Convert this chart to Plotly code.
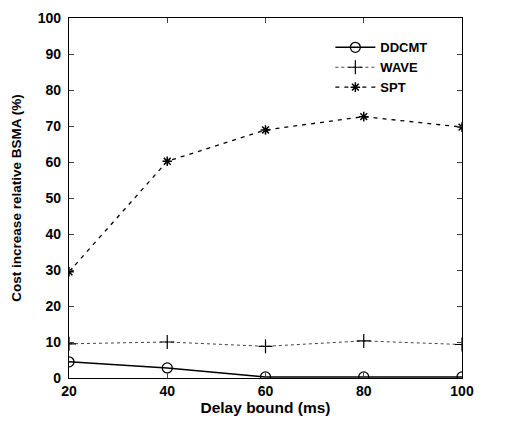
import plotly.graph_objects as go

delay = [20, 40, 60, 80, 100]
ddcmt = [4.5, 2.8, 0.3, 0.3, 0.3]
wave = [9.5, 10.0, 8.8, 10.3, 9.3]
spt = [29.5, 60.2, 68.9, 72.6, 69.7]

font = dict(family="Liberation Sans, Arial", size=13, color="black")

fig = go.Figure()
fig.add_trace(go.Scatter(x=delay, y=ddcmt, name="<b>DDCMT</b>", mode="lines+markers",
                         line=dict(color="black", width=1.5, dash="solid"),
                         marker=dict(symbol="circle-open", size=10, color="black", line=dict(width=1.3))))
fig.add_trace(go.Scatter(x=delay, y=wave, name="<b>WAVE</b>", mode="lines+markers",
                         line=dict(color="#444", width=1, dash="dot"),
                         marker=dict(symbol="cross-thin-open", size=10, color="black", line=dict(width=1.2))))
fig.add_trace(go.Scatter(x=delay, y=spt, name="<b>SPT</b>", mode="lines+markers",
                         line=dict(color="black", width=1.3, dash="4px,5px"),
                         marker=dict(symbol="asterisk-open", size=8, color="black", line=dict(width=1.5))))

fig.update_layout(
    width=497, height=421,
    margin=dict(l=61, r=43, t=10, b=51),
    paper_bgcolor="white", plot_bgcolor="white",
    font=font,
    showlegend=True,
    legend=dict(x=0.665, y=0.96, xanchor="left", yanchor="top",
                bgcolor="rgba(0,0,0,0)", font=dict(size=13), tracegroupgap=0,
                itemwidth=40),
)
fig.update_xaxes(range=[20, 100], tickvals=[20, 40, 60, 80, 100],
                 ticktext=["<b>20</b>", "<b>40</b>", "<b>60</b>", "<b>80</b>", "<b>100</b>"],
                 tickfont=dict(size=14), ticklabelstandoff=0, automargin=False,
                 ticks="inside", ticklen=5, mirror="ticks", showline=True, linecolor="black",
                 linewidth=1.3, showgrid=False, zeroline=False,
                 title=dict(text="<b>Delay bound (ms)</b>", standoff=2, font=dict(size=15.5)))
fig.update_yaxes(range=[0, 100], tickvals=list(range(0, 101, 10)),
                 ticktext=["<b>%d</b>" % v for v in range(0, 101, 10)],
                 tickfont=dict(size=14), ticklabelstandoff=4, automargin=False,
                 ticks="inside", ticklen=5, mirror="ticks", showline=True, linecolor="black",
                 linewidth=1.3, showgrid=False, zeroline=False,
                 title=dict(text="<b>Cost increase relative BSMA (%)</b>", standoff=12,
                            font=dict(size=13.5)))

fig.write_html("out.html")
